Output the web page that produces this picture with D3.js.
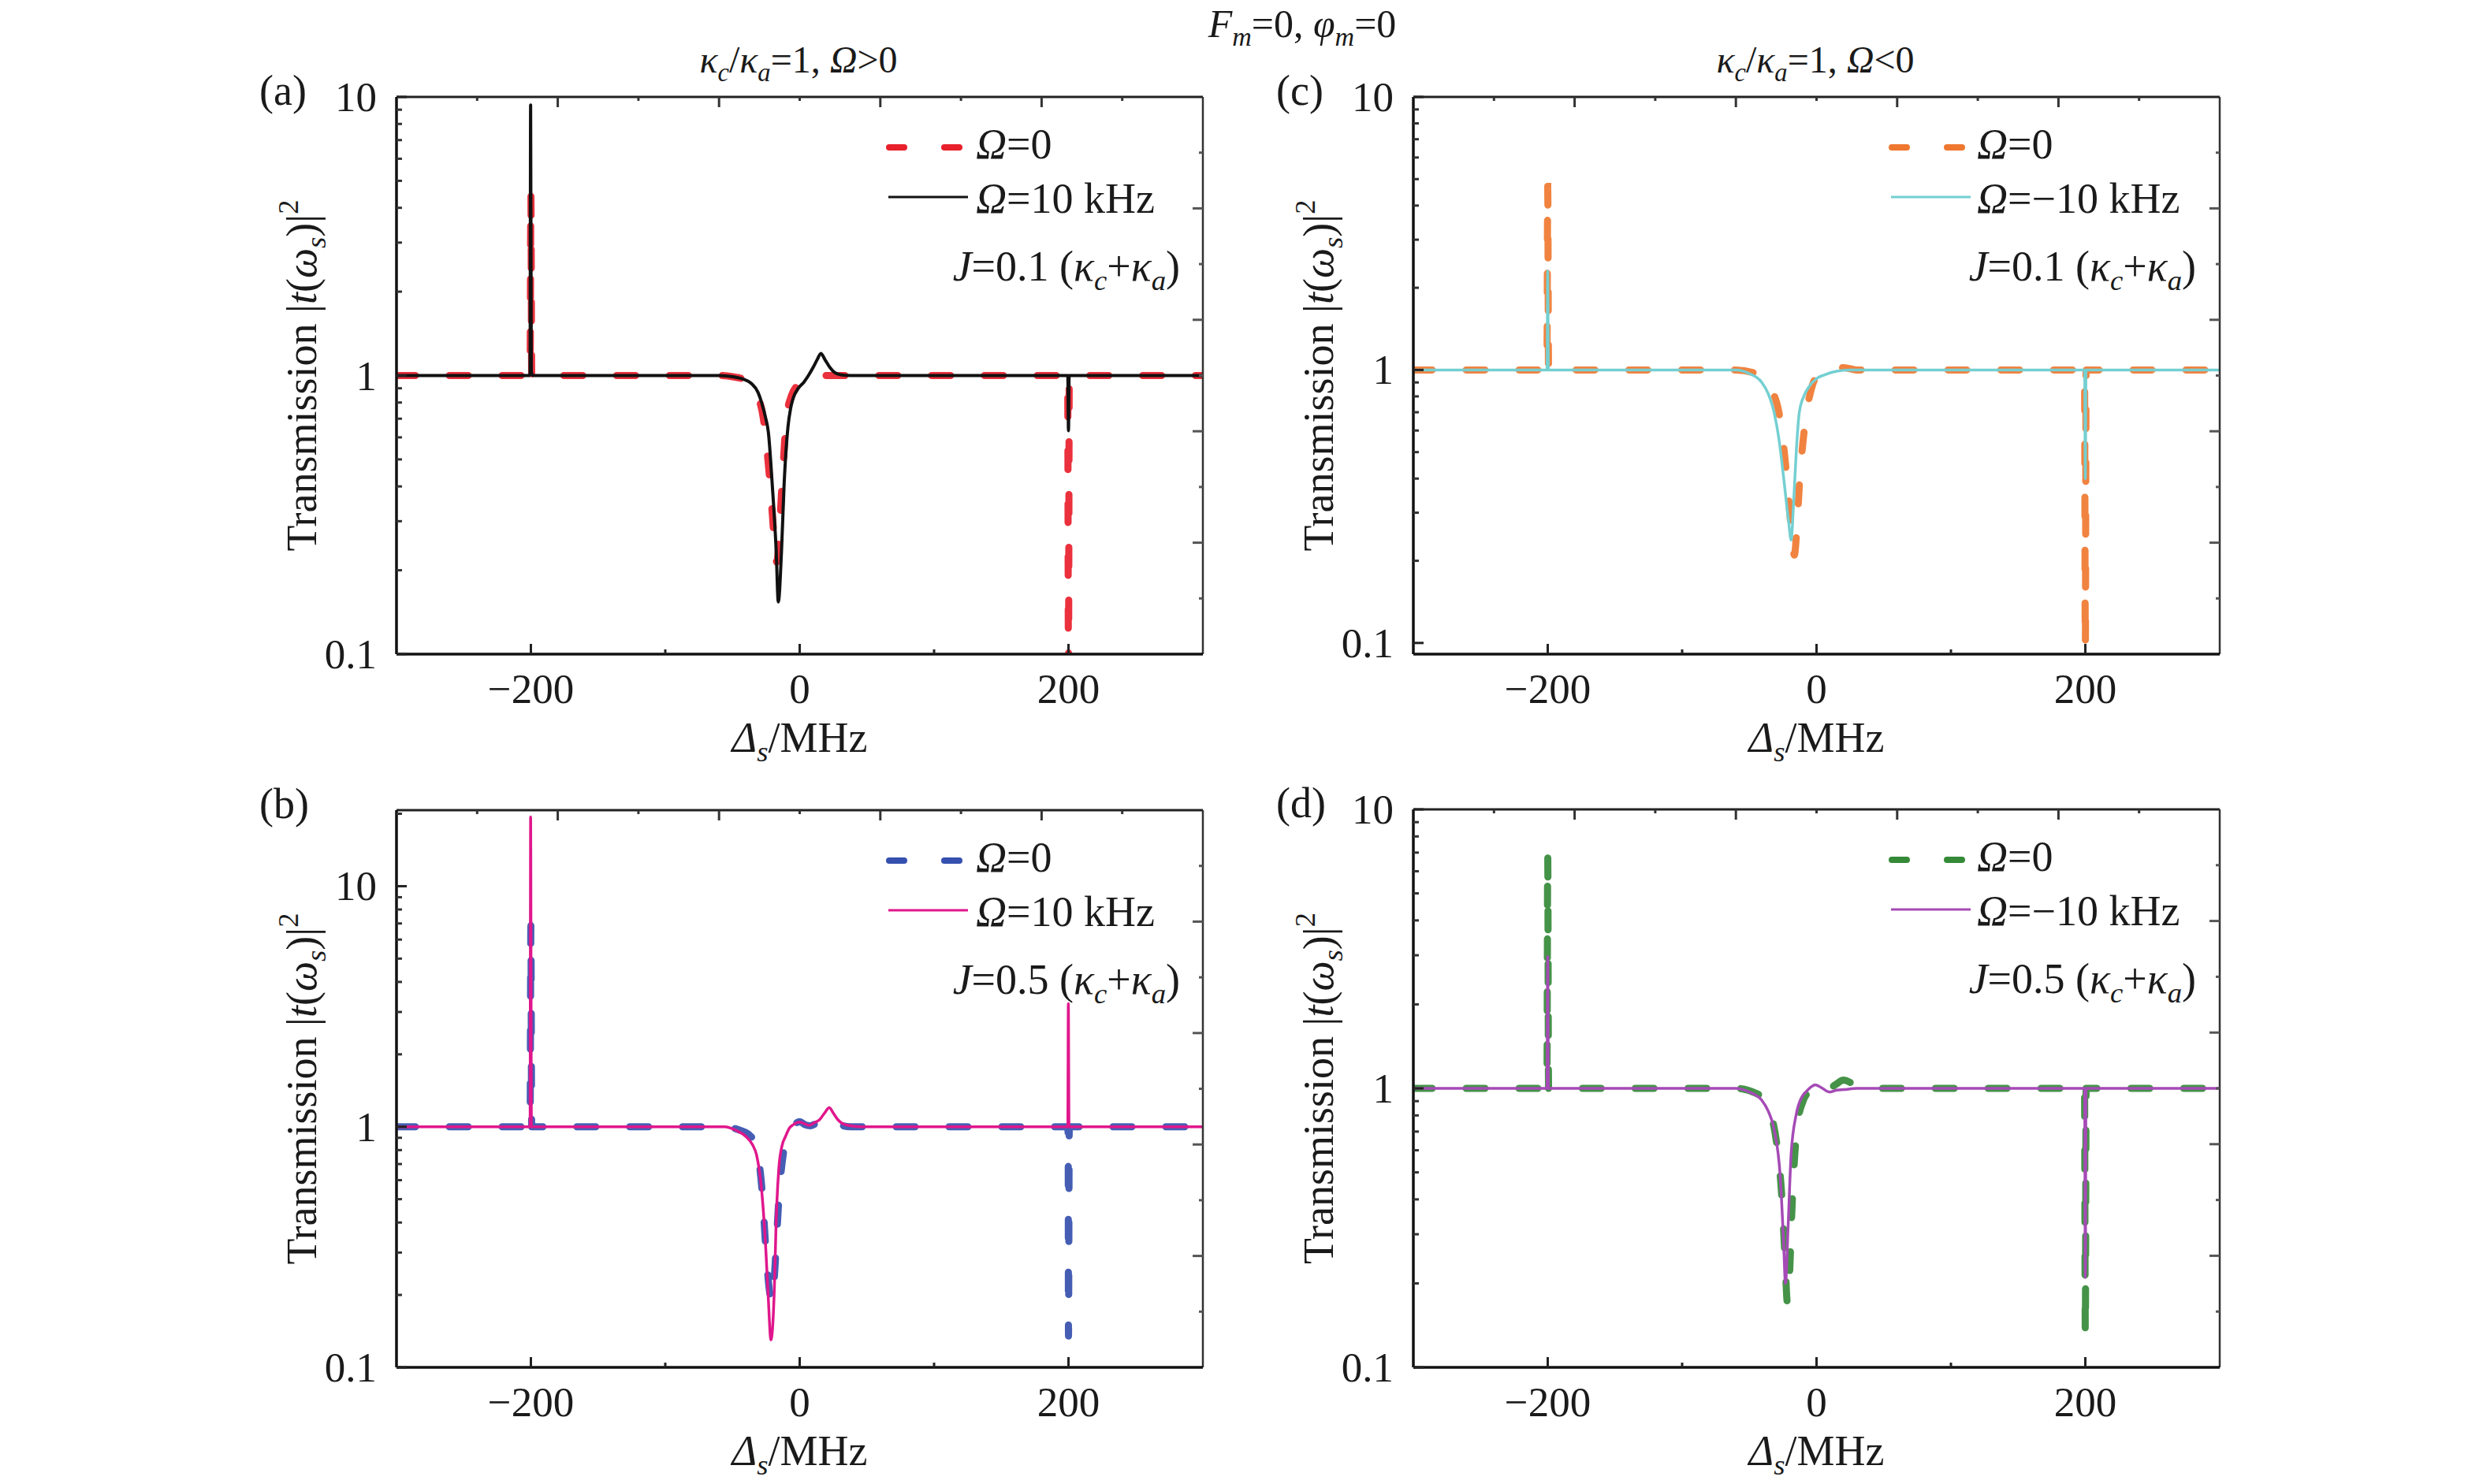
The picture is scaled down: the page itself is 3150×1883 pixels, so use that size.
<!DOCTYPE html>
<html lang="en">
<head>
  <meta charset="utf-8">
  <title>Transmission spectra</title>
  <script src="https://d3js.org/d3.v7.min.js" charset="utf-8"></script>
  <style>
    body {
      margin: 0;
      background: #fff;
      font-family: "Liberation Serif", "Times New Roman", serif;
    }
    svg text {
      fill: #1a1a1a;
      font-family: "Liberation Serif", "Times New Roman", serif;
    }
  </style>
</head>
<body>
  <script>
    // data: [detuning in MHz, |t|^2]
    var aOmega0 = [[-300,1.0],[-200.6,1.0],[-200,4.47],[-199.4,1.0],[-60,1.0],[-50,0.99],[-42,0.97],[-36,0.93],[-31,0.84],[-27,0.7],
      [-24,0.52],[-21.5,0.38],[-19,0.26],[-17,0.214],[-15,0.28],[-13,0.42],[-12,0.5],[-10,0.7],[-6,0.85],[-2,0.92],[3,0.96],
      [10,0.98],[20,1.0],[199.4,1.0],[200,0.09],[200.6,1.0],[300,1.0]];
    var aOmega10 = [[-300,1.0],[-201,1.0],[-200.6,1.02],[-200.2,9.35],[-199.7,1.03],[-198.5,1.0],[-60,1.0],[-49.7,0.99],[-42,0.97],
      [-36,0.937],[-31,0.87],[-28.2,0.796],[-25.5,0.71],[-23.3,0.626],[-20.4,0.405],[-17.5,0.236],[-15.9,0.154],[-13.5,0.236],
      [-11.6,0.405],[-8.7,0.655],[-6.8,0.76],[-4.8,0.83],[-1,0.9],[3,0.945],[6.5,1.0],[9.9,1.067],[13,1.14],[15.8,1.2],
      [18.8,1.14],[22.6,1.067],[26,1.025],[30.4,1.006],[38,1.0],[199.5,1.0],[200,0.634],[200.5,1.0],[300,1.0]];

    var bOmega0 = [[-300,1.0],[-200.6,1.0],[-200,6.85],[-199.4,1.0],[-55,1.0],[-45,0.97],[-38,0.93],[-33,0.85],[-30,0.7],
      [-27.5,0.5],[-25.5,0.33],[-23,0.22],[-20.8,0.187],[-18.8,0.24],[-17,0.36],[-15,0.55],[-12.5,0.75],[-9,0.92],[-4,1.02],
      [0,1.05],[4,1.02],[8,1.01],[14,1.05],[20,1.1],[24,1.08],[30,1.02],[38,1.0],[199.4,1.0],[199.8,0.9],[200,0.135],
      [200.6,1.0],[300,1.0]];
    var bOmega10 = [[-300,1.0],[-200.6,1.0],[-200.2,19.4],[-199.6,1.0],[-55.6,1.0],[-48,0.97],[-39.9,0.91],[-35,0.84],
      [-32.1,0.764],[-28.2,0.537],[-25.3,0.317],[-23.3,0.191],[-21.4,0.13],[-18.8,0.217],[-17.5,0.407],[-15.5,0.674],
      [-13,0.84],[-10.6,0.91],[-7.5,0.99],[-4.8,1.02],[0.1,1.046],[3.5,1.03],[7,1.013],[11,1.04],[14.8,1.07],[18.5,1.14],
      [22,1.2],[25,1.14],[28.4,1.07],[32,1.03],[36.3,1.013],[46,1.0],[199.5,1.0],[199.9,3.25],[200.4,1.0],[300,1.0]];

    var cOmega0 = [[-300,1.0],[-200.6,1.0],[-200,4.7],[-199.4,1.0],[-60,1.0],[-45,0.97],[-38,0.92],[-32,0.82],[-28,0.7],
      [-24,0.5],[-21,0.35],[-18.5,0.25],[-16.5,0.21],[-14.5,0.27],[-12.5,0.4],[-10,0.55],[-7,0.72],[-3,0.88],[2,0.97],
      [10,1.02],[20,1.02],[30,1.0],[199.4,1.0],[200,0.096],[200.6,1.0],[300,1.0]];
    var cOmegaNeg10 = [[-300,1.0],[-200.5,1.0],[-200,2.3],[-199.5,1.0],[-59.9,1.0],[-50,0.97],[-41,0.904],[-36,0.82],
      [-31.6,0.7],[-28,0.56],[-24.5,0.404],[-20.7,0.276],[-18.9,0.238],[-17,0.33],[-15.1,0.5],[-12.8,0.7],[-9.5,0.8],
      [-5.7,0.867],[0,0.93],[6,0.96],[15,0.99],[24.7,1.0],[199.5,1.0],[200,0.4],[200.5,1.0],[300,1.0]];

    var dOmega0 = [[-300,1.0],[-200.6,1.0],[-200,6.85],[-199.4,1.0],[-60,1.0],[-45,0.96],[-38,0.9],[-33,0.78],[-29,0.6],
      [-26,0.42],[-23.5,0.25],[-21.7,0.171],[-20,0.22],[-18.5,0.35],[-16.5,0.55],[-14,0.75],[-10,0.9],[-5,0.98],[0,1.03],
      [4,1.0],[8,0.99],[14,1.03],[20,1.07],[25,1.05],[30,1.01],[36,1.0],[199.4,1.0],[200,0.131],[200.6,1.0],[300,1.0]];
    var dOmegaNeg10 = [[-300,1.0],[-200.5,1.0],[-200,2.97],[-199.5,1.0],[-59.9,1.0],[-50,0.97],[-41,0.91],[-36,0.83],
      [-31.6,0.714],[-26.9,0.474],[-24.5,0.28],[-23.1,0.2],[-21.2,0.316],[-18.9,0.582],[-15.1,0.807],[-11,0.93],[-8,0.97],
      [-3,1.02],[-0.9,1.03],[3,1.01],[9.9,0.97],[15,0.985],[20.3,0.99],[30,1.0],[199.5,1.0],[200,0.21],[200.5,1.0],[300,1.0]];

    var xDomain = [-300, 300];
    var xTickValues = [-200, 0, 200];
    var xMinorTicks = [-100, 100];
    var xTopTicks = [-240, -180, -120, -60, 0, 60, 120, 180, 240];
    var yTickValues = [0.1, 1, 10];
    var yTickLabels = ["0.1", "1", "10"];
    var couplings = ["0.1", "0.5", "0.1", "0.5"];
    var omegaLabels = ["=10 kHz", "=10 kHz", "=\u221210 kHz", "=\u221210 kHz"];
    var yDomains = [[0.1, 10], [0.1, 20.7], [0.091, 10], [0.1, 10]];

    var width = 3150;
    var height = 1883;
    var serif = "Liberation Serif, Times New Roman, serif";

    var svg = d3.select("body")
      .append("svg")
      .attr("width", width)
      .attr("height", height)
      .attr("font-family", serif);

    // write text with italic / sub / sup parts as tspans
    function rich(sel, parts, size) {
      var shift = 0;
      parts.forEach(function(p) {
        var s = p[1] || "";
        var target = 0;
        if (s.indexOf("sub") >= 0) target = size * 0.22;
        if (s.indexOf("sup") >= 0) target = -size * 0.42;
        var ts = sel.append("tspan").text(p[0]).attr("dy", target - shift);
        shift = target;
        if (s.charAt(0) == "i") ts.attr("font-style", "italic");
        if (target !== 0) ts.attr("font-size", size * 0.68);
      });
    }

    var panels = [
      { name: "(a)", x0: 503, x1: 1526, y0: 123, y1: 830, dashColor: "#e8202c", lineColor: "#111111", lineW: 4,
        dashed: aOmega0, solid: aOmega10, legX: 621, textX: 735, jX: 994 },
      { name: "(b)", x0: 503, x1: 1526, y0: 1028, y1: 1735, dashColor: "#3550ae", lineColor: "#e0178c", lineW: 3.5,
        dashed: bOmega0, solid: bOmega10, legX: 621, textX: 735, jX: 994 },
      { name: "(c)", x0: 1793, x1: 2816, y0: 123, y1: 830, dashColor: "#ef7830", lineColor: "#74cfd1", lineW: 3.5,
        dashed: cOmega0, solid: cOmegaNeg10, legX: 603, textX: 715, jX: 993 },
      { name: "(d)", x0: 1793, x1: 2816, y0: 1027, y1: 1735, dashColor: "#358a38", lineColor: "#a54ab6", lineW: 3.5,
        dashed: dOmega0, solid: dOmegaNeg10, legX: 603, textX: 715, jX: 993 }
    ];

    panels.forEach(function(p, i) {
      var x = d3.scaleLinear().domain(xDomain).range([p.x0, p.x1]);
      var y = d3.scaleLog().domain(yDomains[i]).range([p.y1, p.y0]);
      var g = svg.append("g");

      svg.append("clipPath").attr("id", "clip" + i)
        .append("rect")
        .attr("x", p.x0).attr("y", p.y0)
        .attr("width", p.x1 - p.x0).attr("height", p.y1 - p.y0);

      var line = d3.line()
        .x(function(d) { return x(d[0]); })
        .y(function(d) { return y(d[1]); })
        .curve(d3.curveMonotoneX);

      var plot = g.append("g").attr("clip-path", "url(#clip" + i + ")");
      plot.append("path")
        .attr("d", line(p.dashed))
        .attr("fill", "none")
        .attr("stroke", p.dashColor)
        .attr("stroke-width", 9)
        .attr("stroke-dasharray", "24,43")
        .attr("stroke-linecap", "round")
        .attr("opacity", 0.92);
      plot.append("path")
        .attr("d", line(p.solid))
        .attr("fill", "none")
        .attr("stroke", p.lineColor)
        .attr("stroke-width", p.lineW)
        .attr("stroke-linejoin", "round");

      // frame
      g.append("line").attr("x1", p.x0).attr("x2", p.x1).attr("y1", p.y0).attr("y2", p.y0)
        .attr("stroke", "#222").attr("stroke-width", 3);
      g.append("line").attr("x1", p.x1).attr("x2", p.x1).attr("y1", p.y0).attr("y2", p.y1)
        .attr("stroke", "#333").attr("stroke-width", 2.5);
      g.append("line").attr("x1", p.x0).attr("x2", p.x1).attr("y1", p.y1).attr("y2", p.y1)
        .attr("stroke", "#111").attr("stroke-width", 3.5);
      g.append("line").attr("x1", p.x0).attr("x2", p.x0).attr("y1", p.y0).attr("y2", p.y1)
        .attr("stroke", "#111").attr("stroke-width", 3.5);

      // bottom axis ticks (inward)
      g.selectAll(".xmaj").data(xTickValues).enter().append("line")
        .attr("x1", x).attr("x2", x).attr("y1", p.y1).attr("y2", p.y1 - 13)
        .attr("stroke", "#222").attr("stroke-width", 3);
      g.selectAll(".xmin").data(xMinorTicks).enter().append("line")
        .attr("x1", x).attr("x2", x).attr("y1", p.y1).attr("y2", p.y1 - 6)
        .attr("stroke", "#222").attr("stroke-width", 3);
      g.selectAll(".xlab").data(xTickValues).enter().append("text")
        .attr("x", x).attr("y", p.y1 + 62)
        .attr("text-anchor", "middle").attr("font-size", 53)
        .text(function(d) { return d < 0 ? "\u2212" + Math.abs(d) : d; });

      // top ticks
      g.selectAll(".xtop").data(xTopTicks).enter().append("line")
        .attr("x1", x).attr("x2", x).attr("y1", p.y0)
        .attr("y2", function(d) { return p.y0 + (Math.abs(d) % 120 == 60 ? 13 : 5); })
        .attr("stroke", "#333").attr("stroke-width", 3);

      // left log ticks
      var minor = [];
      [0.1, 1, 10].forEach(function(dec) {
        for (var k = 2; k <= 9; k++) {
          var v = dec * k;
          if (v > yDomains[i][0] && v < yDomains[i][1]) minor.push(v);
        }
      });
      g.selectAll(".ymin").data(minor).enter().append("line")
        .attr("x1", p.x0).attr("x2", p.x0 + 7).attr("y1", y).attr("y2", y)
        .attr("stroke", "#333").attr("stroke-width", 3);
      g.selectAll(".ymaj").data(yTickValues).enter().append("line")
        .attr("x1", p.x0).attr("x2", p.x0 + 13).attr("y1", y).attr("y2", y)
        .attr("stroke", "#222").attr("stroke-width", 3);
      g.selectAll(".ylab").data(yTickValues).enter().append("text")
        .attr("x", p.x0 - 25).attr("y", function(d) { return y(d) + 18; })
        .attr("text-anchor", "end").attr("font-size", 53)
        .text(function(d, k) { return yTickLabels[k]; });

      // right ticks, ten even steps
      var rightTicks = d3.range(1, 10);
      g.selectAll(".yr").data(rightTicks).enter().append("line")
        .attr("x1", p.x1).attr("x2", function(k) { return p.x1 - (k % 2 == 0 ? 13 : 5); })
        .attr("y1", function(k) { return p.y0 + (p.y1 - p.y0) * k / 10; })
        .attr("y2", function(k) { return p.y0 + (p.y1 - p.y0) * k / 10; })
        .attr("stroke", "#555").attr("stroke-width", 3);

      // axis titles
      var xl = g.append("text")
        .attr("x", (p.x0 + p.x1) / 2).attr("y", p.y1 + 124)
        .attr("text-anchor", "middle").attr("font-size", 54);
      rich(xl, [["\u0394", "i"], ["s", "isub"], ["/MHz"]], 54);

      var yl = g.append("text")
        .attr("transform", "translate(" + (p.x0 - 102) + "," + ((p.y0 + p.y1) / 2) + ") rotate(-90)")
        .attr("text-anchor", "middle").attr("font-size", 54);
      rich(yl, [["Transmission |"], ["t", "i"], ["("], ["\u03c9", "i"], ["s", "isub"], [")|"], ["2", "sup"]], 54);

      g.append("text")
        .attr("x", p.x0 - 174).attr("y", p.y0 + 10)
        .attr("font-size", 54)
        .text(p.name);

      // legend
      var lx = p.x0 + p.legX;
      g.append("line")
        .attr("x1", lx + 4).attr("x2", lx + 93).attr("y1", p.y0 + 64).attr("y2", p.y0 + 64)
        .attr("stroke", p.dashColor).attr("stroke-width", 8)
        .attr("stroke-dasharray", "19,51").attr("stroke-linecap", "round");
      g.append("line")
        .attr("x1", lx + 3).attr("x2", lx + 104).attr("y1", p.y0 + 127).attr("y2", p.y0 + 127)
        .attr("stroke", p.lineColor).attr("stroke-width", 3);
      var t1 = g.append("text").attr("x", p.x0 + p.textX).attr("y", p.y0 + 78).attr("font-size", 54);
      rich(t1, [["\u03a9", "i"], ["=0"]], 54);
      var t2 = g.append("text").attr("x", p.x0 + p.textX).attr("y", p.y0 + 147).attr("font-size", 54);
      rich(t2, [["\u03a9", "i"], [omegaLabels[i]]], 54);
      var t3 = g.append("text").attr("x", p.x0 + p.jX).attr("y", p.y0 + 233)
        .attr("text-anchor", "end").attr("font-size", 54);
      rich(t3, [["J", "i"], ["=" + couplings[i] + " ("], ["\u03ba", "i"], ["c", "isub"], ["+"], ["\u03ba", "i"], ["a", "isub"], [")"]], 54);
    });

    // column headings and overall title
    var s1 = svg.append("text").attr("x", 1013).attr("y", 92).attr("text-anchor", "middle").attr("font-size", 48);
    rich(s1, [["\u03ba", "i"], ["c", "isub"], ["/"], ["\u03ba", "i"], ["a", "isub"], ["=1, "], ["\u03a9", "i"], [">0"]], 48);
    var s2 = svg.append("text").attr("x", 2303).attr("y", 92).attr("text-anchor", "middle").attr("font-size", 48);
    rich(s2, [["\u03ba", "i"], ["c", "isub"], ["/"], ["\u03ba", "i"], ["a", "isub"], ["=1, "], ["\u03a9", "i"], ["<0"]], 48);
    var tt = svg.append("text").attr("x", 1652).attr("y", 47).attr("text-anchor", "middle").attr("font-size", 50);
    rich(tt, [["F", "i"], ["m", "isub"], ["=0, "], ["\u03c6", "i"], ["m", "isub"], ["=0"]], 50);
  </script>
</body>
</html>
